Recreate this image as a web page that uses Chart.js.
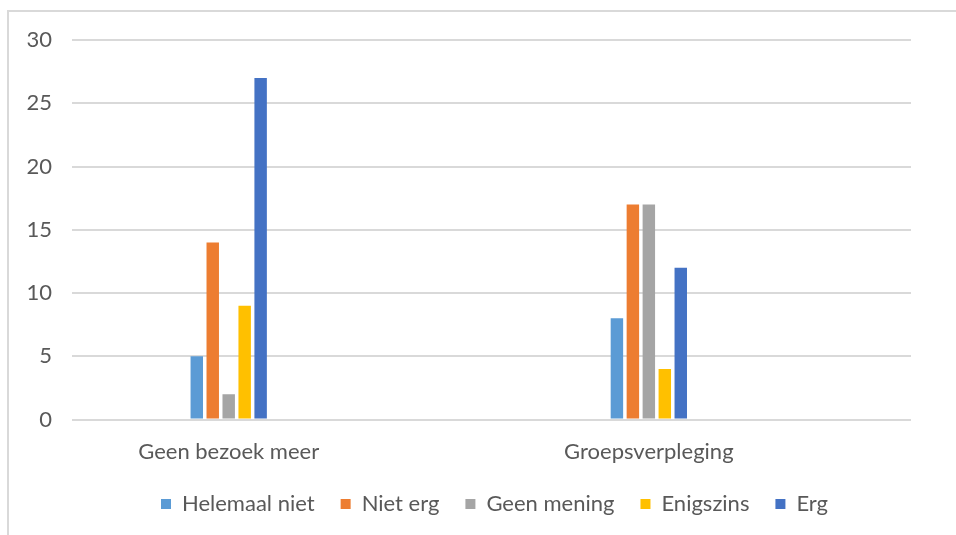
<!DOCTYPE html>
<html>
<head>
<meta charset="utf-8">
<script src="https://cdn.jsdelivr.net/npm/chart.js@4/dist/chart.umd.min.js"></script>
<style>
  html, body { margin: 0; padding: 0; background: #fff; }
  #wrap { position: relative; width: 956px; height: 535px; overflow: hidden; }
  #frame {
    position: absolute; left: 7px; top: 10px; width: 1000px; height: 600px;
    border-left: 2px solid #d9d9d9; border-top: 2px solid #d9d9d9;
  }
  canvas { position: absolute; left: 0; top: 0; }
</style>
</head>
<body>
<div id="wrap">
  <div id="frame"></div>
  <canvas id="surveyChart" width="989" height="535"></canvas>
</div>
<script>
const categories = ['Geen bezoek meer', 'Groepsverpleging'];
const answers = ['Helemaal niet', 'Niet erg', 'Geen mening', 'Enigszins', 'Erg'];
const helemaalNiet = [5, 8];
const nietErg = [14, 17];
const geenMening = [2, 17];
const enigszins = [9, 4];
const erg = [27, 12];
const yTicks = [0, 5, 10, 15, 20, 25, 30];

const colors = ['#5b9bd5', '#ed7d31', '#a5a5a5', '#ffc000', '#4472c4'];
const series = [helemaalNiet, nietErg, geenMening, enigszins, erg];
const textColor = '#595959';
const font = { family: 'Lato', size: 22 };

// categories sit on a numeric axis so the groups can be placed left of centre
const datasets = series.map((values, i) => ({
  label: answers[i],
  data: values.map((v, idx) => ({ x: idx, y: v })),
  backgroundColor: colors[i],
  borderWidth: 0,
  categoryPercentage: 0.19,
  barPercentage: 0.78,
}));

// pull the legend up closer to the axis labels
const legendNudge = {
  id: 'legendNudge',
  afterLayout(chart) {
    const lg = chart.legend;
    if (!lg) return;
    lg.top -= 17;
    lg.bottom -= 17;
  },
};

new Chart(document.getElementById('surveyChart'), {
  type: 'bar',
  data: { datasets },
  plugins: [legendNudge],
  options: {
    responsive: false,
    animation: false,
    layout: { padding: { left: 0, right: 0, top: 40, bottom: -7 } },
    plugins: {
      tooltip: { enabled: false },
      legend: {
        position: 'bottom',
        labels: {
          color: textColor,
          font,
          boxWidth: 10,
          boxHeight: 10,
          padding: 26,
        },
      },
    },
    scales: {
      x: {
        type: 'linear',
        offset: false,
        min: -0.373,
        max: 1.624,
        grid: { display: false, offset: false, drawTicks: false },
        border: { display: false },
        afterBuildTicks: (scale) => {
          scale.ticks = categories.map((_, i) => ({ value: i }));
        },
        ticks: {
          color: textColor,
          font,
          padding: 19,
          maxRotation: 0,
          callback: (value) => categories[value] ?? '',
        },
      },
      y: {
        min: 0,
        max: 30,
        afterBuildTicks: (scale) => {
          scale.ticks = yTicks.map((v) => ({ value: v }));
        },
        afterFit: (scale) => { scale.width = 72; },
        grid: { color: '#d9d9d9', lineWidth: 2, drawTicks: false },
        border: { display: false },
        ticks: { color: textColor, font, padding: 20 },
      },
      // empty right-hand axis, only keeps space right of the plot
      yRight: {
        position: 'right',
        min: 0,
        max: 30,
        grid: { display: false, drawTicks: false },
        border: { display: false },
        ticks: { display: false },
        afterFit: (scale) => { scale.width = 78; },
      },
    },
  },
});
</script>
</body>
</html>
